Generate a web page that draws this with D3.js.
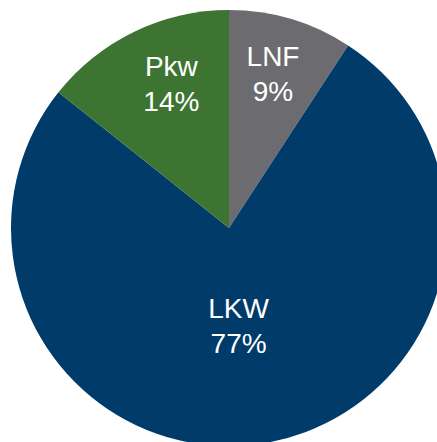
<!DOCTYPE html>
<html>
<head>
<meta charset="utf-8">
<script src="https://cdn.jsdelivr.net/npm/d3@7"></script>
<style>
  html, body { margin: 0; padding: 0; background: #fff; overflow: hidden; }
</style>
</head>
<body>
<div id="container"></div>
<script>
const width = 437
const height = 442

// shares (labels show the rounded value)
const categories = ['LNF', 'LKW', 'Pkw']
const shares = [9.2, 76.5, 14.3]
const colors = ['#6c6b70', '#003b69', '#3e7431']

const data = categories.map((c, i) => ({ name: c, value: shares[i], color: colors[i] }))

const svg = d3.select('#container')
  .append('svg')
  .attr('width', width)
  .attr('height', height)

const cx = 229
const cy = 228
const radius = 218

const pie = d3.pie()
  .value(d => d.value)
  .sort(null)

const arc = d3.arc()
  .innerRadius(0)
  .outerRadius(radius)

const g = svg.append('g')
  .attr('transform', `translate(${cx},${cy})`)

const slices = g.selectAll('g.slice')
  .data(pie(data))
  .enter()
  .append('g')
  .attr('class', 'slice')

slices.append('path')
  .attr('d', arc)
  .attr('fill', d => d.data.color)

// big slice gets its label closer to the middle
const labelRadius = d => d.data.value > 50 ? 98 : 158
// small layout nudges so the labels sit like in the original
const nudge = { LNF: [-1, -3], LKW: [-6, 1], Pkw: [11, -2] }

const labels = slices.append('text')
  .attr('transform', d => {
    const a = (d.startAngle + d.endAngle) / 2
    const r = labelRadius(d)
    const n = nudge[d.data.name]
    return `translate(${Math.sin(a) * r + n[0]},${-Math.cos(a) * r + n[1]})`
  })
  .attr('text-anchor', 'middle')
  .attr('fill', '#fff')
  .style('font-family', 'Liberation Sans, Arial, sans-serif')
  .style('font-size', '28px')

labels.append('tspan')
  .attr('x', 0)
  .attr('dy', -7.5)
  .text(d => d.data.name)

labels.append('tspan')
  .attr('x', 0)
  .attr('dy', 35)
  .text(d => Math.round(d.data.value) + '%')
</script>
</body>
</html>
